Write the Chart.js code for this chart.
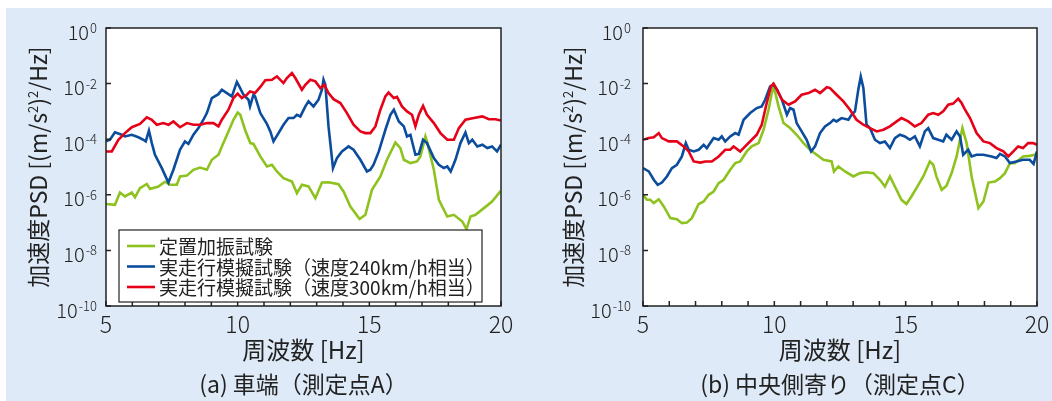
<!DOCTYPE html>
<html>
<head>
<meta charset="utf-8">
<script src="https://cdn.jsdelivr.net/npm/chart.js@4.4.1/dist/chart.umd.min.js"></script>
<style>
  body { margin: 0; width: 1052px; height: 401px; background: #fff; position: relative; overflow: hidden; }
  #bg { position: absolute; left: 6px; top: 8px; right: 0; bottom: 0; background: #deeaf7; }
  .pane { position: absolute; top: 0; width: 526px; height: 401px; }
</style>
</head>
<body>
<div id="bg"></div>
<div class="pane" style="left:0"><canvas id="chartA" width="526" height="401"></canvas></div>
<div class="pane" style="left:526px"><canvas id="chartC" width="526" height="401"></canvas></div>
<script>
// axis ticks
const xTicks = [5, 6, 7, 8, 9, 10, 11, 12, 13, 14, 15, 16, 17, 18, 19, 20];
const xTickLabels = [5, 10, 15, 20];
const yTickExp = [0, -2, -4, -6, -8, -10];

const seriesLabels = ['定置加振試験', '実走行模擬試験（速度240km/h相当）', '実走行模擬試験（速度300km/h相当）'];

// (a) 車端 - frequency [Hz] and log10 of PSD
const freqA_static = [5.0,5.34,5.53,5.72,5.98,6.10,6.29,6.55,6.67,6.99,7.24,7.43,7.69,7.81,8.07,8.32,8.57,8.83,9.02,9.27,9.40,9.65,9.84,10.0,10.1,10.28,10.48,10.60,10.86,11.11,11.30,11.49,11.74,12.06,12.25,12.44,12.69,12.95,13.20,13.45,13.83,14.02,14.28,14.63,14.85,15.10,15.42,15.67,15.99,16.18,16.31,16.56,16.81,16.94,17.13,17.19,17.45,17.64,17.96,18.21,18.53,18.69,18.84,19.03,19.35,19.66,20.0];
const logA_static = [-6.33,-6.36,-5.92,-6.06,-5.92,-6.09,-5.76,-5.61,-5.79,-5.70,-5.53,-5.64,-5.64,-5.34,-5.31,-5.10,-5.02,-5.10,-4.74,-4.56,-4.26,-3.72,-3.30,-3.04,-3.12,-3.66,-4.14,-4.17,-4.62,-4.98,-4.92,-5.16,-5.40,-5.52,-5.94,-5.64,-5.70,-6.12,-5.56,-5.55,-5.62,-5.88,-6.42,-6.87,-6.72,-5.82,-5.34,-4.74,-4.12,-4.32,-4.74,-4.86,-4.80,-4.62,-3.90,-4.08,-5.10,-6.18,-6.78,-6.72,-6.96,-7.24,-6.78,-6.72,-6.48,-6.24,-5.85];

const freqA_240 = [5.0,5.15,5.34,5.60,5.72,5.98,6.23,6.42,6.51,6.63,6.74,6.86,7.12,7.37,7.56,7.81,8.00,8.13,8.32,8.51,8.70,8.83,9.02,9.27,9.40,9.59,9.78,9.97,10.07,10.22,10.41,10.47,10.60,10.66,10.86,11.11,11.24,11.36,11.55,11.74,11.93,12.12,12.25,12.38,12.57,12.69,12.88,13.07,13.20,13.26,13.33,13.45,13.62,13.77,13.96,14.21,14.40,14.66,14.91,15.04,15.16,15.36,15.61,15.80,15.93,16.12,16.31,16.43,16.56,16.75,16.88,17.04,17.19,17.45,17.64,17.83,17.96,18.09,18.27,18.46,18.65,18.78,18.91,19.10,19.29,19.48,19.66,19.85,20.0];
const logA_240 = [-4.08,-4.02,-3.75,-3.84,-3.90,-3.84,-3.93,-4.02,-4.08,-3.69,-4.14,-4.56,-5.04,-5.56,-5.10,-4.38,-4.08,-4.17,-3.84,-3.60,-3.30,-3.06,-2.52,-2.38,-2.22,-2.34,-2.46,-1.94,-2.12,-2.40,-2.58,-2.82,-2.40,-2.46,-3.06,-3.45,-3.72,-4.08,-3.78,-3.48,-3.24,-3.24,-3.12,-3.18,-2.82,-2.64,-2.82,-2.58,-2.22,-1.86,-2.04,-3.54,-5.04,-4.68,-4.44,-4.26,-4.38,-4.74,-5.16,-5.10,-4.92,-4.44,-3.66,-3.12,-2.94,-3.36,-3.54,-3.90,-3.84,-4.56,-4.53,-4.02,-4.14,-4.68,-4.92,-5.04,-4.98,-5.16,-4.74,-4.14,-3.76,-4.14,-4.02,-4.26,-4.20,-4.32,-4.26,-4.44,-4.20];

const freqA_300 = [5.0,5.22,5.47,5.72,5.98,6.29,6.55,6.74,6.93,7.18,7.37,7.56,7.81,8.07,8.32,8.57,8.83,9.08,9.27,9.40,9.65,9.84,10.0,10.16,10.35,10.47,10.66,10.86,11.05,11.30,11.49,11.74,11.87,12.06,12.19,12.44,12.57,12.76,12.95,13.14,13.29,13.45,13.64,13.90,14.15,14.40,14.66,14.85,15.04,15.23,15.42,15.61,15.73,15.93,16.05,16.24,16.43,16.62,16.75,16.88,17.04,17.19,17.45,17.70,17.96,18.21,18.40,18.65,18.97,19.29,19.54,19.79,20.0];
const logA_300 = [-4.44,-4.44,-4.02,-3.78,-3.57,-3.45,-3.21,-3.30,-3.48,-3.42,-3.48,-3.36,-3.57,-3.42,-3.48,-3.48,-3.42,-3.42,-3.54,-3.30,-2.94,-2.52,-2.36,-2.52,-2.40,-2.28,-2.34,-2.12,-1.88,-1.86,-1.74,-1.98,-1.80,-1.62,-1.80,-2.22,-2.04,-1.86,-1.92,-2.16,-2.04,-2.34,-2.56,-2.70,-3.06,-3.48,-3.72,-3.78,-3.78,-3.54,-2.94,-2.46,-2.32,-2.52,-2.48,-2.82,-3.00,-3.12,-3.54,-3.12,-2.80,-3.12,-3.42,-3.78,-4.02,-4.02,-3.60,-3.30,-3.24,-3.18,-3.28,-3.28,-3.33];

// (b) 中央側寄り
const freqC_static = [5.0,5.15,5.28,5.41,5.60,5.79,6.04,6.29,6.48,6.67,6.86,7.12,7.31,7.50,7.69,7.88,8.07,8.32,8.51,8.70,8.95,9.14,9.40,9.59,9.78,9.95,10.04,10.16,10.35,10.60,10.85,11.11,11.36,11.61,11.87,12.18,12.27,12.44,12.69,13.01,13.26,13.51,13.77,14.02,14.21,14.40,14.59,14.84,15.03,15.22,15.41,15.67,15.92,16.05,16.17,16.37,16.55,16.75,16.94,17.07,17.16,17.32,17.51,17.77,17.96,18.15,18.40,18.59,18.78,18.97,19.15,19.47,19.72,19.91,20.0];
const logC_static = [-6.00,-6.18,-6.18,-6.30,-6.16,-6.42,-6.84,-6.88,-7.02,-7.00,-6.84,-6.33,-6.24,-6.00,-5.88,-5.58,-5.46,-5.10,-4.86,-4.80,-4.44,-4.26,-4.14,-3.66,-2.94,-2.10,-2.34,-2.82,-3.42,-3.60,-3.84,-4.14,-4.38,-4.56,-4.74,-4.80,-5.16,-4.98,-5.16,-5.34,-5.22,-5.19,-5.22,-5.46,-5.70,-5.34,-5.70,-6.18,-6.33,-6.06,-5.76,-5.34,-4.80,-4.92,-5.34,-5.82,-5.68,-5.22,-4.62,-4.02,-3.60,-4.14,-5.34,-6.48,-6.24,-5.56,-5.52,-5.40,-5.22,-4.86,-4.86,-4.62,-4.60,-4.56,-4.50];

const freqC_240 = [5.0,5.22,5.41,5.56,5.72,5.91,6.10,6.29,6.48,6.63,6.74,6.93,7.12,7.31,7.43,7.69,7.88,8.00,8.13,8.32,8.51,8.64,8.83,9.08,9.33,9.52,9.65,9.84,9.97,10.10,10.29,10.48,10.60,10.73,10.85,11.04,11.23,11.40,11.55,11.74,11.93,12.12,12.25,12.37,12.56,12.82,12.94,13.07,13.20,13.29,13.39,13.51,13.64,13.83,14.02,14.21,14.40,14.59,14.78,14.97,15.16,15.35,15.54,15.73,15.86,16.05,16.24,16.43,16.55,16.75,16.94,17.07,17.19,17.38,17.51,17.70,17.96,18.27,18.46,18.59,18.78,18.97,19.22,19.47,19.72,19.87,20.0];
const logC_240 = [-5.04,-5.16,-5.46,-5.64,-5.56,-5.34,-5.04,-4.92,-4.62,-4.14,-4.38,-4.44,-4.38,-4.20,-4.32,-3.96,-4.02,-3.90,-4.08,-3.90,-3.78,-3.84,-3.30,-3.06,-2.88,-2.82,-2.58,-2.10,-2.04,-2.22,-2.58,-3.12,-2.88,-2.94,-3.42,-3.72,-4.02,-4.44,-4.26,-3.78,-3.54,-3.42,-3.30,-3.36,-3.24,-3.30,-3.12,-3.00,-2.20,-1.75,-2.16,-3.48,-3.60,-4.02,-4.14,-4.08,-4.32,-3.96,-3.84,-3.90,-4.02,-3.90,-4.26,-3.72,-3.60,-3.96,-4.02,-4.08,-3.84,-4.02,-3.72,-3.90,-4.56,-4.38,-4.62,-4.56,-4.56,-4.62,-4.68,-4.53,-4.62,-4.86,-4.80,-4.74,-4.74,-4.89,-4.44];

const freqC_300 = [5.0,5.22,5.41,5.60,5.72,5.98,6.29,6.55,6.74,6.93,7.18,7.37,7.62,7.88,8.13,8.32,8.45,8.70,8.89,9.14,9.33,9.52,9.71,9.87,9.97,10.10,10.29,10.54,10.79,11.04,11.30,11.55,11.74,12.00,12.12,12.37,12.63,12.88,13.13,13.39,13.64,13.90,14.15,14.40,14.66,14.84,15.10,15.35,15.60,15.86,16.05,16.24,16.43,16.62,16.81,17.00,17.13,17.26,17.45,17.70,17.96,18.21,18.46,18.72,18.91,19.10,19.28,19.47,19.66,19.85,20.0];
const logC_300 = [-4.02,-3.96,-3.93,-3.78,-3.96,-4.08,-4.08,-4.26,-4.44,-4.80,-4.84,-4.80,-4.80,-4.62,-4.38,-4.38,-4.26,-4.44,-4.26,-4.02,-3.84,-3.48,-2.70,-2.10,-2.00,-2.22,-2.58,-2.76,-2.64,-2.40,-2.34,-2.22,-2.34,-2.13,-2.16,-2.40,-2.64,-2.94,-3.30,-3.48,-3.60,-3.72,-3.66,-3.54,-3.36,-3.24,-3.36,-3.54,-3.42,-3.12,-3.06,-3.12,-3.00,-2.76,-2.72,-2.54,-2.70,-2.94,-3.24,-3.78,-4.08,-4.14,-4.32,-4.44,-4.62,-4.44,-4.26,-4.32,-4.14,-4.14,-4.20];

const FONT = '"Noto Sans CJK JP", "Noto Sans", sans-serif';
const TEXT = '#222';
const colors = ['#8dc21f', '#0b4c9c', '#e60018'];

function toPoints(freq, logv) {
  return freq.map((f, i) => ({ x: f, y: Math.pow(10, logv[i]) }));
}

function makeSets(list) {
  // green under blue under red
  return list.map((s, i) => ({
    label: seriesLabels[i],
    data: toPoints(s[0], s[1]),
    borderColor: colors[i],
    borderWidth: 2.6,
    pointRadius: 0,
    fill: false,
    tension: 0,
    order: 2 - i
  }));
}

function drawYTitle(ctx, cx, cy) {
  const big = '23px ' + FONT, small = '13px ' + FONT;
  const parts = [['加速度PSD [(m/s', big, 0], ['2', small, -9], [')', big, 0], ['2', small, -9], ['/Hz]', big, 0]];
  ctx.save();
  ctx.translate(cx, cy);
  ctx.rotate(-Math.PI / 2);
  let total = 0;
  parts.forEach(p => { ctx.font = p[1]; total += ctx.measureText(p[0]).width; });
  let x0 = -total / 2;
  ctx.textAlign = 'left';
  ctx.textBaseline = 'alphabetic';
  parts.forEach(p => {
    ctx.font = p[1];
    ctx.fillText(p[0], x0, 8 + p[2]);
    x0 += ctx.measureText(p[0]).width;
  });
  ctx.restore();
}

const panelDeco = {
  id: 'panelDeco',
  beforeDraw(chart) {
    const { ctx, chartArea: a } = chart;
    ctx.save();
    ctx.fillStyle = '#fff';
    ctx.fillRect(a.left, a.top, a.right - a.left, a.bottom - a.top);
    ctx.restore();
  },
  afterDraw(chart, args, opts) {
    const { ctx, chartArea: a, scales } = chart;
    const xs = scales.x, ys = scales.y;
    ctx.save();
    ctx.strokeStyle = '#222';
    ctx.lineWidth = 1.5;
    ctx.strokeRect(a.left, a.top, a.right - a.left, a.bottom - a.top);

    // inward ticks
    ctx.beginPath();
    xTicks.forEach(v => {
      const px = xs.getPixelForValue(v);
      ctx.moveTo(px, a.bottom);
      ctx.lineTo(px, a.bottom - 5);
    });
    yTickExp.forEach(e => {
      const py = ys.getPixelForValue(Math.pow(10, e));
      ctx.moveTo(a.left, py);
      ctx.lineTo(a.left + 5, py);
    });
    ctx.stroke();

    ctx.fillStyle = TEXT;
    // x tick labels
    ctx.font = '300 23px ' + FONT;
    ctx.textAlign = 'center';
    ctx.textBaseline = 'alphabetic';
    xTickLabels.forEach(v => ctx.fillText(String(v), xs.getPixelForValue(v), a.bottom + 27));

    // y tick labels 10^n
    yTickExp.forEach(e => {
      const py = ys.getPixelForValue(Math.pow(10, e));
      const right = a.left - opts.tickGap;
      const sup = String(e);
      ctx.font = '300 13px ' + FONT;
      ctx.textAlign = 'right';
      const ws = ctx.measureText(sup).width;
      ctx.fillText(sup, right, py + 5);
      ctx.font = '300 20px ' + FONT;
      ctx.fillText('10', right - ws - 1, py + 11.5);
    });

    // axis titles
    const cx = (a.left + a.right) / 2;
    ctx.textAlign = 'center';
    ctx.font = '24px ' + FONT;
    ctx.fillText('周波数 [Hz]', cx, a.bottom + 53);
    ctx.font = '23px ' + FONT;
    ctx.fillText(opts.caption, cx, a.bottom + 87);
    drawYTitle(ctx, opts.yTitleX, (a.top + a.bottom) / 2);

    // legend box
    if (opts.legend) {
      const L = opts.legend;
      ctx.fillStyle = '#fff';
      ctx.fillRect(L.x, L.y, L.w, L.h);
      ctx.lineWidth = 1.2;
      ctx.strokeStyle = '#222';
      ctx.strokeRect(L.x, L.y, L.w, L.h);
      ctx.font = '19px ' + FONT;
      ctx.textAlign = 'left';
      ctx.textBaseline = 'middle';
      chart.data.datasets.forEach((ds, i) => {
        const yy = L.y + 16 + i * 20.5;
        ctx.strokeStyle = ds.borderColor;
        ctx.lineWidth = 2.6;
        ctx.beginPath();
        ctx.moveTo(L.x + 8, yy);
        ctx.lineTo(L.x + 36, yy);
        ctx.stroke();
        ctx.fillStyle = TEXT;
        ctx.fillText(ds.label, L.x + 40, yy + 1);
      });
    }
    ctx.restore();
  }
};

function makeChart(id, datasets, deco) {
  return new Chart(document.getElementById(id), {
    type: 'line',
    data: { datasets: datasets },
    options: {
      responsive: false,
      animation: false,
      devicePixelRatio: 1,
      layout: { padding: deco.pad },
      plugins: { legend: { display: false }, tooltip: { enabled: false }, panelDeco: deco },
      scales: {
        x: { type: 'linear', min: 5, max: 20, grid: { display: false, drawTicks: false }, ticks: { display: false }, border: { display: false } },
        y: { type: 'logarithmic', min: 1e-10, max: 1, grid: { display: false, drawTicks: false }, ticks: { display: false }, border: { display: false } }
      }
    },
    plugins: [panelDeco]
  });
}

makeChart('chartA', makeSets([[freqA_static, logA_static], [freqA_240, logA_240], [freqA_300, logA_300]]), {
  pad: { left: 106, right: 25, top: 28, bottom: 95 },
  tickGap: 9,
  yTitleX: 39,
  caption: '(a) 車端（測定点A）',
  legend: { x: 119, y: 230, w: 363, h: 72 }
});

makeChart('chartC', makeSets([[freqC_static, logC_static], [freqC_240, logC_240], [freqC_300, logC_300]]), {
  pad: { left: 117, right: 15, top: 28, bottom: 95 },
  tickGap: 12,
  yTitleX: 48,
  caption: '(b) 中央側寄り（測定点C）',
  legend: null
});
</script>
</body>
</html>
